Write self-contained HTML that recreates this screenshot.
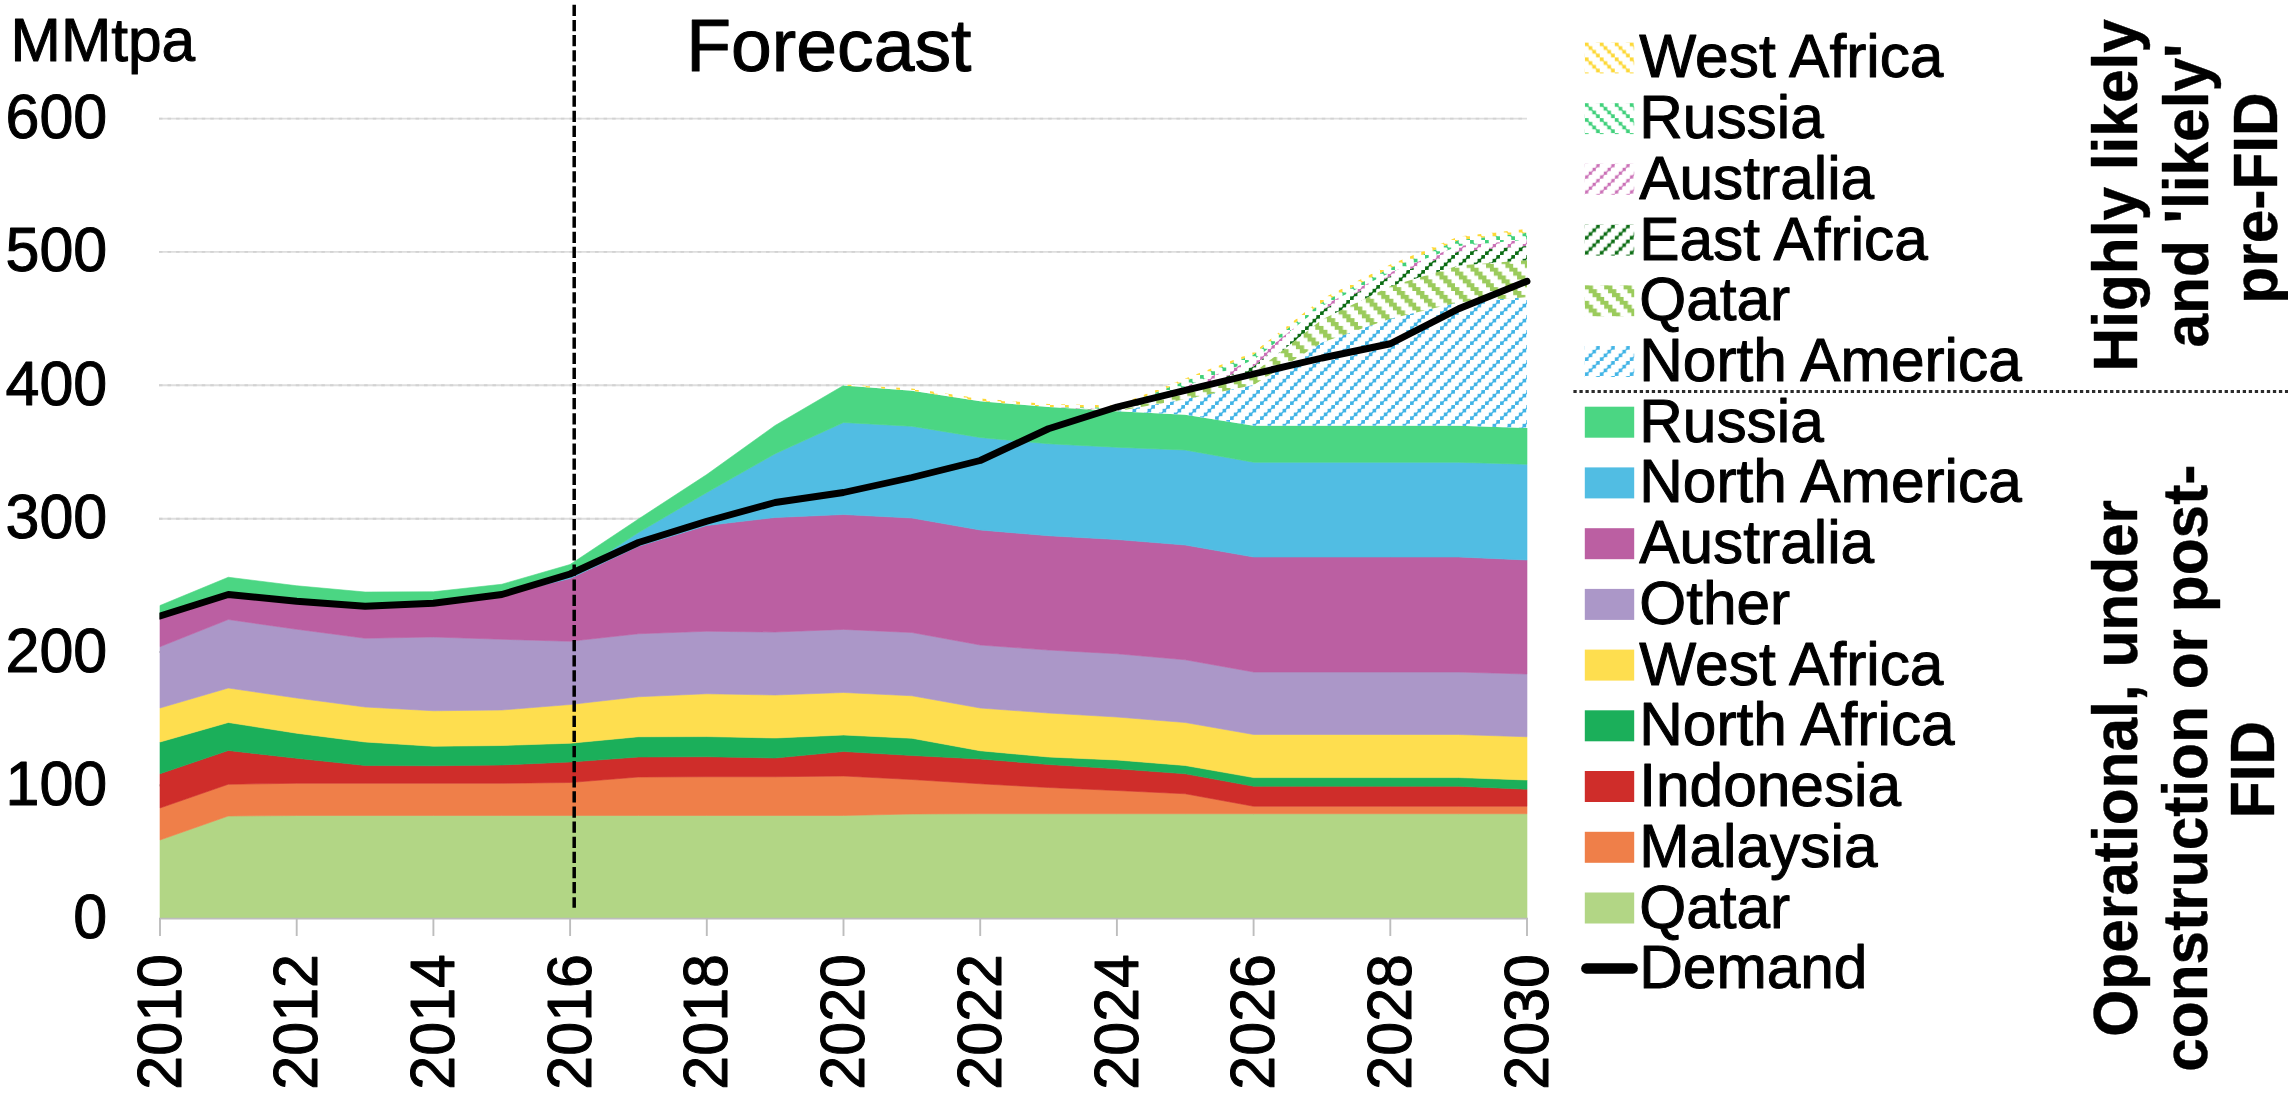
<!DOCTYPE html>
<html lang="en"><head><meta charset="utf-8"><title>LNG supply forecast</title>
<style>
html,body{margin:0;padding:0;background:#fff}
svg{display:block}
text{font-family:"Liberation Sans",Arial,Helvetica,sans-serif;fill:#000;stroke:#000;stroke-width:1px;stroke-linejoin:round}
.b{font-weight:bold}
.b text{stroke-width:0.4px}
</style></head><body>
<svg width="2288" height="1096" viewBox="0 0 2288 1096">
<defs><pattern id="p_waf" width="15.0" height="15.0" patternUnits="userSpaceOnUse"><g fill="#fdd835" opacity="1"><rect x="0.025" y="0.025" width="3.700" height="3.700"/><rect x="3.775" y="3.775" width="3.700" height="3.700"/><rect x="7.525" y="7.525" width="3.700" height="3.700"/><rect x="11.275" y="11.275" width="3.700" height="3.700"/><path d="M-3.75,-3.75 L18.75,18.75" stroke="#fdd835" stroke-width="1.1" fill="none"/></g></pattern><pattern id="p_rus" width="15.0" height="15.0" patternUnits="userSpaceOnUse"><g fill="#3fd07a" opacity="1"><rect x="0.025" y="0.025" width="3.700" height="3.700"/><rect x="3.775" y="3.775" width="3.700" height="3.700"/><rect x="7.525" y="7.525" width="3.700" height="3.700"/><rect x="11.275" y="11.275" width="3.700" height="3.700"/><path d="M-3.75,-3.75 L18.75,18.75" stroke="#3fd07a" stroke-width="1.1" fill="none"/></g></pattern><pattern id="p_aus" width="15.0" height="15.0" patternUnits="userSpaceOnUse"><g fill="#c45fae" opacity="0.9"><rect x="11.525" y="0.275" width="3.200" height="3.200"/><rect x="7.775" y="4.025" width="3.200" height="3.200"/><rect x="4.025" y="7.775" width="3.200" height="3.200"/><rect x="0.275" y="11.525" width="3.200" height="3.200"/><path d="M-3.75,18.75 L18.75,-3.75" stroke="#c45fae" stroke-width="1.1" fill="none"/></g></pattern><pattern id="p_eaf" width="15.0" height="15.0" patternUnits="userSpaceOnUse"><g fill="#0a6b12" opacity="1"><rect x="11.325" y="0.075" width="3.600" height="3.600"/><rect x="7.575" y="3.825" width="3.600" height="3.600"/><rect x="3.825" y="7.575" width="3.600" height="3.600"/><rect x="0.075" y="11.325" width="3.600" height="3.600"/><path d="M-3.75,18.75 L18.75,-3.75" stroke="#0a6b12" stroke-width="1.2" fill="none"/></g></pattern><pattern id="p_qat" width="19.4" height="19.4" patternUnits="userSpaceOnUse"><g fill="#9bcb5c"><rect x="0.000" y="0.000" width="4.330" height="4.130"/><rect x="3.880" y="0.000" width="4.330" height="4.130"/><rect x="3.880" y="3.880" width="4.330" height="4.130"/><rect x="7.760" y="3.880" width="4.330" height="4.130"/><rect x="7.760" y="7.760" width="4.330" height="4.130"/><rect x="11.640" y="7.760" width="4.330" height="4.130"/><rect x="11.640" y="11.640" width="4.330" height="4.130"/><rect x="15.520" y="11.640" width="4.330" height="4.130"/><rect x="15.520" y="15.520" width="4.330" height="4.130"/><rect x="0.000" y="15.520" width="4.330" height="4.130"/></g></pattern><pattern id="p_nam" width="15.0" height="15.0" patternUnits="userSpaceOnUse"><g fill="#41b4e6" opacity="1"><rect x="11.325" y="0.075" width="3.600" height="3.600"/><rect x="7.575" y="3.825" width="3.600" height="3.600"/><rect x="3.825" y="7.575" width="3.600" height="3.600"/><rect x="0.075" y="11.325" width="3.600" height="3.600"/><path d="M-3.75,18.75 L18.75,-3.75" stroke="#41b4e6" stroke-width="1.2" fill="none"/></g></pattern></defs>
<rect width="2288" height="1096" fill="#fff"/>
<g stroke="#dedede" stroke-width="1.9"><line x1="159" y1="118.6" x2="1527" y2="118.6"/><line x1="159" y1="251.9" x2="1527" y2="251.9"/><line x1="159" y1="385.3" x2="1527" y2="385.3"/><line x1="159" y1="518.7" x2="1527" y2="518.7"/><line x1="159" y1="652.0" x2="1527" y2="652.0"/><line x1="159" y1="785.4" x2="1527" y2="785.4"/></g>
<g stroke="#d2d2d2" stroke-width="1.9" stroke-dasharray="3.5 5.05"><line x1="159" y1="118.6" x2="1527" y2="118.6"/><line x1="159" y1="251.9" x2="1527" y2="251.9"/><line x1="159" y1="385.3" x2="1527" y2="385.3"/><line x1="159" y1="518.7" x2="1527" y2="518.7"/><line x1="159" y1="652.0" x2="1527" y2="652.0"/><line x1="159" y1="785.4" x2="1527" y2="785.4"/></g>
<g stroke-linejoin="round"><path d="M160.0,840.00 L228.3,816.00 L296.7,815.50 L365.1,815.50 L433.4,815.50 L501.8,815.50 L570.1,815.50 L638.5,815.50 L706.8,815.50 L775.1,815.50 L843.5,815.50 L911.9,814.00 L980.2,813.75 L1048.5,813.75 L1116.9,813.75 L1185.2,813.75 L1253.6,813.75 L1322.0,813.75 L1390.3,813.75 L1458.7,813.75 L1527.0,813.75 L1527.0,918.20 L160.0,918.20Z" fill="#b2d685" stroke="#b2d685" stroke-width="0.6"/><path d="M160.0,808.00 L228.3,784.25 L296.7,783.25 L365.1,783.25 L433.4,783.25 L501.8,783.25 L570.1,782.50 L638.5,777.00 L706.8,776.75 L775.1,776.75 L843.5,776.00 L911.9,779.50 L980.2,783.75 L1048.5,787.50 L1116.9,790.50 L1185.2,793.75 L1253.6,806.25 L1322.0,806.25 L1390.3,806.25 L1458.7,806.25 L1527.0,806.25 L1527.0,813.75 L1458.7,813.75 L1390.3,813.75 L1322.0,813.75 L1253.6,813.75 L1185.2,813.75 L1116.9,813.75 L1048.5,813.75 L980.2,813.75 L911.9,814.00 L843.5,815.50 L775.1,815.50 L706.8,815.50 L638.5,815.50 L570.1,815.50 L501.8,815.50 L433.4,815.50 L365.1,815.50 L296.7,815.50 L228.3,816.00 L160.0,840.00Z" fill="#ef7f49" stroke="#ef7f49" stroke-width="0.6"/><path d="M160.0,773.75 L228.3,750.50 L296.7,758.25 L365.1,765.50 L433.4,765.75 L501.8,765.00 L570.1,762.00 L638.5,757.00 L706.8,756.75 L775.1,758.00 L843.5,751.50 L911.9,755.50 L980.2,759.00 L1048.5,764.50 L1116.9,768.75 L1185.2,773.75 L1253.6,786.25 L1322.0,786.25 L1390.3,786.25 L1458.7,786.25 L1527.0,789.25 L1527.0,806.25 L1458.7,806.25 L1390.3,806.25 L1322.0,806.25 L1253.6,806.25 L1185.2,793.75 L1116.9,790.50 L1048.5,787.50 L980.2,783.75 L911.9,779.50 L843.5,776.00 L775.1,776.75 L706.8,776.75 L638.5,777.00 L570.1,782.50 L501.8,783.25 L433.4,783.25 L365.1,783.25 L296.7,783.25 L228.3,784.25 L160.0,808.00Z" fill="#cf2d2a" stroke="#cf2d2a" stroke-width="0.6"/><path d="M160.0,742.00 L228.3,722.50 L296.7,733.25 L365.1,742.00 L433.4,746.25 L501.8,745.50 L570.1,743.25 L638.5,736.75 L706.8,736.60 L775.1,738.00 L843.5,735.00 L911.9,738.25 L980.2,750.75 L1048.5,757.00 L1116.9,760.00 L1185.2,765.50 L1253.6,777.60 L1322.0,777.60 L1390.3,777.60 L1458.7,777.60 L1527.0,780.00 L1527.0,789.25 L1458.7,786.25 L1390.3,786.25 L1322.0,786.25 L1253.6,786.25 L1185.2,773.75 L1116.9,768.75 L1048.5,764.50 L980.2,759.00 L911.9,755.50 L843.5,751.50 L775.1,758.00 L706.8,756.75 L638.5,757.00 L570.1,762.00 L501.8,765.00 L433.4,765.75 L365.1,765.50 L296.7,758.25 L228.3,750.50 L160.0,773.75Z" fill="#1baf5a" stroke="#1baf5a" stroke-width="0.6"/><path d="M160.0,708.00 L228.3,688.00 L296.7,698.00 L365.1,707.00 L433.4,710.75 L501.8,710.00 L570.1,704.50 L638.5,696.75 L706.8,693.75 L775.1,695.00 L843.5,692.50 L911.9,695.75 L980.2,708.00 L1048.5,713.00 L1116.9,717.00 L1185.2,722.50 L1253.6,734.50 L1322.0,734.50 L1390.3,734.50 L1458.7,734.50 L1527.0,736.75 L1527.0,780.00 L1458.7,777.60 L1390.3,777.60 L1322.0,777.60 L1253.6,777.60 L1185.2,765.50 L1116.9,760.00 L1048.5,757.00 L980.2,750.75 L911.9,738.25 L843.5,735.00 L775.1,738.00 L706.8,736.60 L638.5,736.75 L570.1,743.25 L501.8,745.50 L433.4,746.25 L365.1,742.00 L296.7,733.25 L228.3,722.50 L160.0,742.00Z" fill="#fede4f" stroke="#fede4f" stroke-width="0.6"/><path d="M160.0,646.75 L228.3,619.50 L296.7,629.25 L365.1,638.25 L433.4,637.00 L501.8,639.25 L570.1,641.25 L638.5,633.75 L706.8,631.25 L775.1,632.00 L843.5,629.40 L911.9,632.50 L980.2,645.00 L1048.5,650.00 L1116.9,653.75 L1185.2,659.75 L1253.6,672.00 L1322.0,672.00 L1390.3,672.00 L1458.7,672.00 L1527.0,674.00 L1527.0,736.75 L1458.7,734.50 L1390.3,734.50 L1322.0,734.50 L1253.6,734.50 L1185.2,722.50 L1116.9,717.00 L1048.5,713.00 L980.2,708.00 L911.9,695.75 L843.5,692.50 L775.1,695.00 L706.8,693.75 L638.5,696.75 L570.1,704.50 L501.8,710.00 L433.4,710.75 L365.1,707.00 L296.7,698.00 L228.3,688.00 L160.0,708.00Z" fill="#ab97c8" stroke="#ab97c8" stroke-width="0.6"/><path d="M160.0,617.00 L228.3,595.00 L296.7,602.00 L365.1,607.00 L433.4,604.00 L501.8,595.00 L570.1,578.50 L638.5,546.25 L706.8,525.50 L775.1,517.50 L843.5,514.50 L911.9,518.00 L980.2,530.00 L1048.5,535.75 L1116.9,539.50 L1185.2,545.00 L1253.6,557.00 L1322.0,557.00 L1390.3,557.00 L1458.7,557.00 L1527.0,560.00 L1527.0,674.00 L1458.7,672.00 L1390.3,672.00 L1322.0,672.00 L1253.6,672.00 L1185.2,659.75 L1116.9,653.75 L1048.5,650.00 L980.2,645.00 L911.9,632.50 L843.5,629.40 L775.1,632.00 L706.8,631.25 L638.5,633.75 L570.1,641.25 L501.8,639.25 L433.4,637.00 L365.1,638.25 L296.7,629.25 L228.3,619.50 L160.0,646.75Z" fill="#bb5fa2" stroke="#bb5fa2" stroke-width="0.6"/><path d="M160.0,617.00 L228.3,595.00 L296.7,602.00 L365.1,607.00 L433.4,604.00 L501.8,595.00 L570.1,577.00 L638.5,532.50 L706.8,492.50 L775.1,453.75 L843.5,422.50 L911.9,426.25 L980.2,437.50 L1048.5,443.75 L1116.9,447.25 L1185.2,450.00 L1253.6,462.25 L1322.0,462.25 L1390.3,462.25 L1458.7,462.25 L1527.0,464.25 L1527.0,560.00 L1458.7,557.00 L1390.3,557.00 L1322.0,557.00 L1253.6,557.00 L1185.2,545.00 L1116.9,539.50 L1048.5,535.75 L980.2,530.00 L911.9,518.00 L843.5,514.50 L775.1,517.50 L706.8,525.50 L638.5,546.25 L570.1,578.50 L501.8,595.00 L433.4,604.00 L365.1,607.00 L296.7,602.00 L228.3,595.00 L160.0,617.00Z" fill="#51bde3" stroke="#51bde3" stroke-width="0.6"/><path d="M160.0,605.50 L228.3,577.25 L296.7,585.75 L365.1,592.00 L433.4,591.75 L501.8,584.25 L570.1,564.50 L638.5,519.00 L706.8,474.50 L775.1,425.50 L843.5,385.50 L911.9,390.75 L980.2,401.25 L1048.5,407.00 L1116.9,411.25 L1185.2,414.75 L1253.6,425.75 L1322.0,425.75 L1390.3,425.75 L1458.7,425.75 L1527.0,428.00 L1527.0,464.25 L1458.7,462.25 L1390.3,462.25 L1322.0,462.25 L1253.6,462.25 L1185.2,450.00 L1116.9,447.25 L1048.5,443.75 L980.2,437.50 L911.9,426.25 L843.5,422.50 L775.1,453.75 L706.8,492.50 L638.5,532.50 L570.1,577.00 L501.8,595.00 L433.4,604.00 L365.1,607.00 L296.7,602.00 L228.3,595.00 L160.0,617.00Z" fill="#4bd683" stroke="#4bd683" stroke-width="0.6"/></g>
<path d="M843.5,384.50 L911.9,388.50 L980.2,398.50 L1048.5,404.00 L1116.9,405.50 L1185.2,378.50 L1253.6,352.30 L1322.0,298.75 L1390.3,264.50 L1458.7,236.60 L1527.0,229.00 L1527.0,428.00 L1458.7,425.75 L1390.3,425.75 L1322.0,425.75 L1253.6,425.75 L1185.2,414.75 L1116.9,411.25 L1048.5,407.00 L980.2,401.25 L911.9,390.75 L843.5,385.50Z" fill="#fff"/><path d="M1048.5,407.00 L1116.9,411.25 L1185.2,399.30 L1253.6,385.00 L1322.0,342.50 L1390.3,318.80 L1458.7,302.30 L1527.0,297.20 L1527.0,428.00 L1458.7,425.75 L1390.3,425.75 L1322.0,425.75 L1253.6,425.75 L1185.2,414.75 L1116.9,411.25 L1048.5,407.00Z" fill="url(#p_nam)"/><path d="M1048.5,407.00 L1116.9,411.00 L1185.2,393.00 L1253.6,373.00 L1322.0,319.50 L1390.3,286.25 L1458.7,265.50 L1527.0,260.20 L1527.0,297.20 L1458.7,302.30 L1390.3,318.80 L1322.0,342.50 L1253.6,385.00 L1185.2,399.30 L1116.9,411.25 L1048.5,407.00Z" fill="url(#p_qat)"/><path d="M1048.5,407.00 L1116.9,410.50 L1185.2,391.50 L1253.6,366.50 L1322.0,310.00 L1390.3,276.25 L1458.7,251.50 L1527.0,246.00 L1527.0,260.20 L1458.7,265.50 L1390.3,286.25 L1322.0,319.50 L1253.6,373.00 L1185.2,393.00 L1116.9,411.00 L1048.5,407.00Z" fill="url(#p_eaf)"/><path d="M1048.5,407.00 L1116.9,409.50 L1185.2,386.50 L1253.6,360.00 L1322.0,306.00 L1390.3,272.50 L1458.7,246.00 L1527.0,239.60 L1527.0,246.00 L1458.7,251.50 L1390.3,276.25 L1322.0,310.00 L1253.6,366.50 L1185.2,391.50 L1116.9,410.50 L1048.5,407.00Z" fill="url(#p_aus)"/><path d="M1048.5,407.00 L1116.9,407.50 L1185.2,381.00 L1253.6,354.50 L1322.0,302.50 L1390.3,268.00 L1458.7,240.00 L1527.0,232.80 L1527.0,239.60 L1458.7,246.00 L1390.3,272.50 L1322.0,306.00 L1253.6,360.00 L1185.2,386.50 L1116.9,409.50 L1048.5,407.00Z" fill="url(#p_rus)"/><path d="M843.5,384.50 L911.9,388.50 L980.2,398.50 L1048.5,404.00 L1116.9,405.50 L1185.2,378.50 L1253.6,352.30 L1322.0,298.75 L1390.3,264.50 L1458.7,236.60 L1527.0,229.00 L1527.0,232.80 L1458.7,240.00 L1390.3,268.00 L1322.0,302.50 L1253.6,354.50 L1185.2,381.00 L1116.9,407.50 L1048.5,407.00 L980.2,401.25 L911.9,390.75 L843.5,385.50Z" fill="url(#p_waf)"/>
<g stroke="#bdbdbd" stroke-width="1.9"><line x1="159" y1="918.6" x2="1528" y2="918.6"/><line x1="160.0" y1="918.6" x2="160.0" y2="936"/><line x1="296.7" y1="918.6" x2="296.7" y2="936"/><line x1="433.4" y1="918.6" x2="433.4" y2="936"/><line x1="570.1" y1="918.6" x2="570.1" y2="936"/><line x1="706.8" y1="918.6" x2="706.8" y2="936"/><line x1="843.5" y1="918.6" x2="843.5" y2="936"/><line x1="980.2" y1="918.6" x2="980.2" y2="936"/><line x1="1116.9" y1="918.6" x2="1116.9" y2="936"/><line x1="1253.6" y1="918.6" x2="1253.6" y2="936"/><line x1="1390.3" y1="918.6" x2="1390.3" y2="936"/><line x1="1527.0" y1="918.6" x2="1527.0" y2="936"/></g>
<line x1="574.2" y1="4.8" x2="574.2" y2="907.8" stroke="#000" stroke-width="3.5" stroke-dasharray="11.3 3.825"/>
<clipPath id="cl"><rect x="159.4" y="0" width="1400" height="1000"/></clipPath><polyline clip-path="url(#cl)" fill="none" stroke="#000" stroke-width="6.9" stroke-linejoin="round" stroke-linecap="round" points="160.0,616.00 228.3,594.50 296.7,601.25 365.1,606.25 433.4,603.25 501.8,594.50 570.1,574.00 638.5,542.50 706.8,521.25 775.1,502.50 843.5,492.50 911.9,477.50 980.2,460.50 1048.5,428.75 1116.9,407.00 1185.2,390.30 1253.6,374.00 1322.0,358.00 1390.3,343.75 1458.7,308.75 1527.0,281.25"/>
<g font-size="60.4"><text transform="translate(10.6,61.2) scale(1,1.01)">MMtpa</text></g>
<g font-size="73.3"><text transform="translate(686.3,70.6) scale(1,1.01)">Forecast</text></g>
<g font-size="61" text-anchor="end"><text transform="translate(107.3,138.1) scale(1,1.035)">600</text><text transform="translate(107.3,271.4) scale(1,1.035)">500</text><text transform="translate(107.3,404.8) scale(1,1.035)">400</text><text transform="translate(107.3,538.2) scale(1,1.035)">300</text><text transform="translate(107.3,671.5) scale(1,1.035)">200</text><text transform="translate(107.3,804.9) scale(1,1.035)">100</text><text transform="translate(107.3,937.7) scale(1,1.035)">0</text></g>
<g font-size="61" text-anchor="end"><text transform="translate(180.6,954.0) rotate(-90) scale(1,1.035)">2010</text><text transform="translate(317.3,954.0) rotate(-90) scale(1,1.035)">2012</text><text transform="translate(454.0,954.0) rotate(-90) scale(1,1.035)">2014</text><text transform="translate(590.7,954.0) rotate(-90) scale(1,1.035)">2016</text><text transform="translate(727.4,954.0) rotate(-90) scale(1,1.035)">2018</text><text transform="translate(864.1,954.0) rotate(-90) scale(1,1.035)">2020</text><text transform="translate(1000.8,954.0) rotate(-90) scale(1,1.035)">2022</text><text transform="translate(1137.5,954.0) rotate(-90) scale(1,1.035)">2024</text><text transform="translate(1274.2,954.0) rotate(-90) scale(1,1.035)">2026</text><text transform="translate(1410.9,954.0) rotate(-90) scale(1,1.035)">2028</text><text transform="translate(1547.6,954.0) rotate(-90) scale(1,1.035)">2030</text></g>
<g font-size="60.4"><g transform="translate(1584.8,42.4)"><rect x="0" y="0" width="49.4" height="31" fill="url(#p_waf)"/></g><text transform="translate(1639.2,77.4) scale(1,1.01)">West Africa</text><g transform="translate(1584.8,103.1)"><rect x="0" y="0" width="49.4" height="31" fill="url(#p_rus)"/></g><text transform="translate(1639.2,138.1) scale(1,1.01)">Russia</text><g transform="translate(1584.8,163.8)"><rect x="0" y="0" width="49.4" height="31" fill="url(#p_aus)"/></g><text transform="translate(1639.2,198.8) scale(1,1.01)">Australia</text><g transform="translate(1584.8,224.6)"><rect x="0" y="0" width="49.4" height="31" fill="url(#p_eaf)"/></g><text transform="translate(1639.2,259.6) scale(1,1.01)">East Africa</text><g transform="translate(1584.8,285.3)"><rect x="0" y="0" width="49.4" height="31" fill="url(#p_qat)"/></g><text transform="translate(1639.2,320.3) scale(1,1.01)">Qatar</text><g transform="translate(1584.8,346.0)"><rect x="0" y="0" width="49.4" height="31" fill="url(#p_nam)"/></g><text transform="translate(1639.2,381.0) scale(1,1.01)">North America</text><rect x="1584.8" y="406.7" width="49.4" height="31" fill="#4bd683"/><text transform="translate(1639.2,441.7) scale(1,1.01)">Russia</text><rect x="1584.8" y="467.4" width="49.4" height="31" fill="#51bde3"/><text transform="translate(1639.2,502.4) scale(1,1.01)">North America</text><rect x="1584.8" y="528.2" width="49.4" height="31" fill="#bb5fa2"/><text transform="translate(1639.2,563.2) scale(1,1.01)">Australia</text><rect x="1584.8" y="588.9" width="49.4" height="31" fill="#ab97c8"/><text transform="translate(1639.2,623.9) scale(1,1.01)">Other</text><rect x="1584.8" y="649.6" width="49.4" height="31" fill="#fede4f"/><text transform="translate(1639.2,684.6) scale(1,1.01)">West Africa</text><rect x="1584.8" y="710.3" width="49.4" height="31" fill="#1baf5a"/><text transform="translate(1639.2,745.3) scale(1,1.01)">North Africa</text><rect x="1584.8" y="771.0" width="49.4" height="31" fill="#cf2d2a"/><text transform="translate(1639.2,806.0) scale(1,1.01)">Indonesia</text><rect x="1584.8" y="831.8" width="49.4" height="31" fill="#ef7f49"/><text transform="translate(1639.2,866.8) scale(1,1.01)">Malaysia</text><rect x="1584.8" y="892.5" width="49.4" height="31" fill="#b2d685"/><text transform="translate(1639.2,927.5) scale(1,1.01)">Qatar</text><line x1="1586.4" y1="968.4" x2="1632.6" y2="968.4" stroke="#000" stroke-width="10.5" stroke-linecap="round"/><text transform="translate(1639.2,988.2) scale(1,1.01)">Demand</text></g>
<line x1="1573.4" y1="391.5" x2="2290" y2="391.5" stroke="#2b2b2b" stroke-width="3.1" stroke-dasharray="3.3 2.73"/>
<g font-size="60.4" class="b" text-anchor="middle"><text transform="translate(2136.6,195.3) rotate(-90) scale(1,1.03)">Highly likely</text><text transform="translate(2207.8,195.6) rotate(-90) scale(1,1.03)">and 'likely'</text><text transform="translate(2277.1,198.0) rotate(-90) scale(1,1.03)">pre-FID</text><text transform="translate(2137.3,768.3) rotate(-90) scale(1,1.03)">Operational, under</text><text transform="translate(2206.8,768.2) rotate(-90) scale(1,1.03)">construction or post-</text><text transform="translate(2274.4,769.5) rotate(-90) scale(1,1.03)">FID</text></g>
</svg>
</body></html>
